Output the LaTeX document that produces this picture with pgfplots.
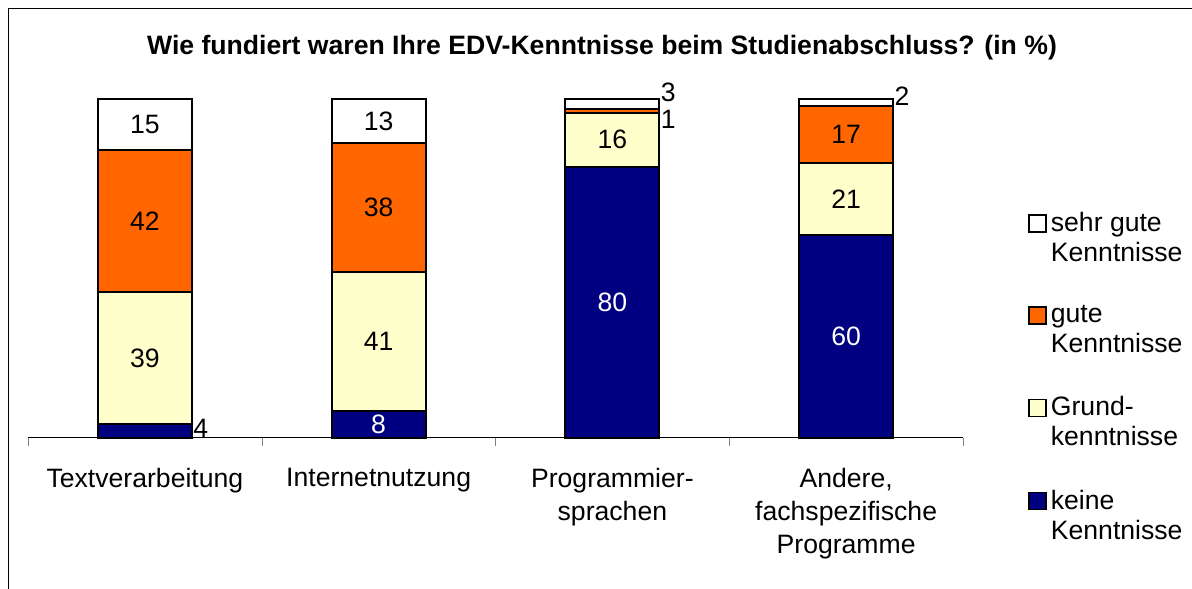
\documentclass[border=0pt]{standalone}
\usepackage{pgfplots}
\pgfplotsset{compat=1.18}
\usepackage{fontspec}
\setmainfont{Liberation Sans}
\definecolor{navyb}{RGB}{0,0,128}
\definecolor{yel}{RGB}{255,255,204}
\definecolor{ora}{RGB}{255,102,0}
\tikzset{lab/.style={font=\fontsize{13.3}{15}\selectfont}}
\pgfplotsset{geom/.style={at={(72.44pt,75pt)}, anchor=origin,
  scale only axis, width=467.5pt, height=169.5pt,
  xmin=-0.5, xmax=3.5, ymin=0, ymax=100, clip=false}}
\begin{document}
\begin{tikzpicture}[x=1pt,y=1pt]
\draw[line width=0.5pt] (4,-2) -- (4,289.5) -- (598,289.5);
\node[font=\bfseries\fontsize{13.3}{15}\selectfont, anchor=base] at (301,266.5) {Wie fundiert waren Ihre EDV-Kenntnisse beim Studienabschluss? (in \%)};
\begin{axis}[
  geom,
  axis x line=bottom, axis y line=none,
  x axis line style={-, line width=0.5pt},
  ybar stacked, bar width=47pt,
  xtick={0,1,2,3},
  xticklabels={Textverarbeitung, Internetnutzung, {Programmier-\\sprachen}, {Andere,\\fachspezifische\\Programme}},
  major tick length=0pt,
  tick align=outside,
  extra x ticks={-0.5,0.5,1.5,2.5,3.5},
  extra x tick labels={},
  extra x tick style={major tick length=4pt},
  xticklabel style={font=\fontsize{13.3}{16.5}\selectfont, align=center, anchor=north, yshift=-11.5pt},
  reverse legend,
  legend style={at={(1.0695,0.679)}, anchor=north west, draw=none, fill=none, inner sep=0pt,
    font=\fontsize{13.3}{15}\selectfont, cells={anchor=west, align=left}, row sep=16.5pt},
  legend image code/.code={\draw[#1, line width=0.75pt] (0pt,3.25pt) rectangle (8.5pt,11.75pt);},
]
\addplot[fill=navyb, draw=black, line width=1pt] coordinates {(0,4) (1,8) (2,80) (3,60)};
\addlegendentry{{keine\\Kenntnisse}}
\addplot[fill=yel, draw=black, line width=1pt] coordinates {(0,39) (1,41) (2,16) (3,21)};
\addlegendentry{{Grund-\\kenntnisse}}
\addplot[fill=ora, draw=black, line width=1pt] coordinates {(0,42) (1,38) (2,1) (3,17)};
\addlegendentry{{gute\\Kenntnisse}}
\addplot[fill=white, draw=black, line width=1pt] coordinates {(0,15) (1,13) (2,3) (3,2)};
\addlegendentry{{sehr gute\\Kenntnisse}}
\end{axis}
\begin{axis}[geom, hide axis]
\node[lab, anchor=west, inner sep=0.5pt] at (axis cs:0.201,2.9) {4};
\node[lab] at (axis cs:0,23.5) {39};
\node[lab] at (axis cs:0,64) {42};
\node[lab] at (axis cs:0,92.5) {15};
\node[lab, text=white] at (axis cs:1,4) {8};
\node[lab] at (axis cs:1,28.5) {41};
\node[lab] at (axis cs:1,68) {38};
\node[lab] at (axis cs:1,93.5) {13};
\node[lab, text=white] at (axis cs:2,40) {80};
\node[lab] at (axis cs:2,88) {16};
\node[lab, anchor=west, inner sep=0.5pt] at (axis cs:2.201,94.1) {1};
\node[lab, anchor=west, inner sep=0.5pt] at (axis cs:2.201,102) {3};
\node[lab, text=white] at (axis cs:3,30) {60};
\node[lab] at (axis cs:3,70.5) {21};
\node[lab] at (axis cs:3,89.5) {17};
\node[lab, anchor=west, inner sep=0.5pt] at (axis cs:3.201,100.9) {2};
\end{axis}
\pgfresetboundingbox
\useasboundingbox (0,0) rectangle (596,294);
\end{tikzpicture}
\end{document}
